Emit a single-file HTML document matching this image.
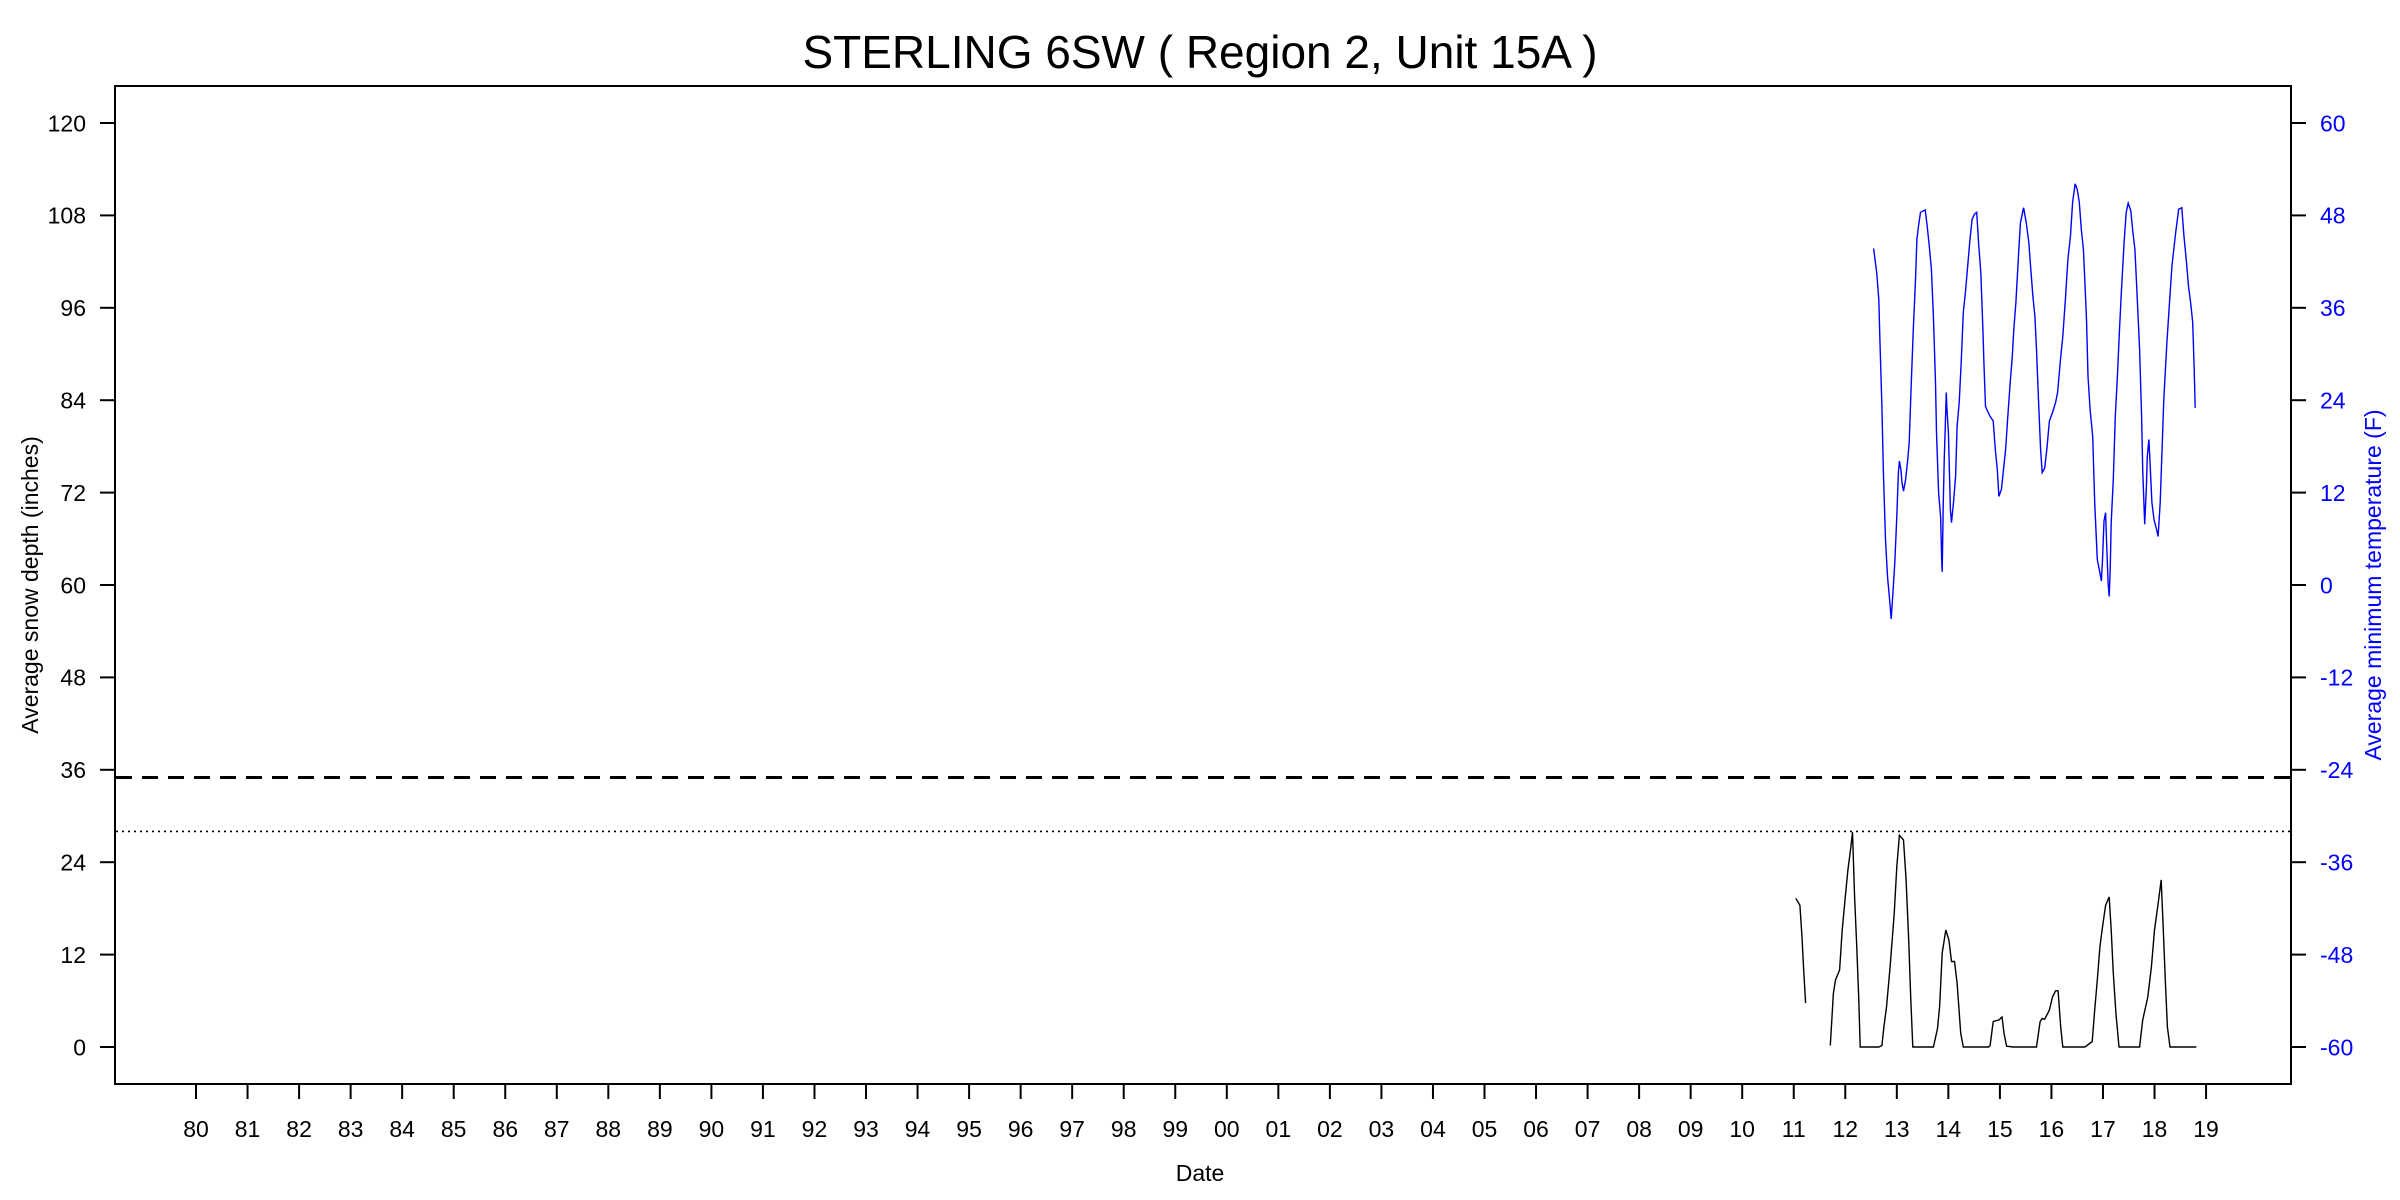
<!DOCTYPE html>
<html><head><meta charset="utf-8"><style>
html,body{margin:0;padding:0;background:#fff;}
svg{display:block;font-family:"Liberation Sans",Arial,sans-serif;}
</style></head><body>
<svg id="chart" width="2400" height="1200" viewBox="0 0 2400 1200">
<text x="1200" y="68" text-anchor="middle" font-size="46">STERLING 6SW ( Region 2, Unit 15A )</text>
<rect x="115" y="86" width="2176" height="998" fill="none" stroke="#000" stroke-width="2"/>
<g id="left-axis"></g>
<g id="right-axis"></g>
<g id="x-axis"></g>
<g id="series"></g>
<text x="0" y="0" transform="translate(38,585) rotate(-90)" text-anchor="middle" font-size="23">Average snow depth (inches)</text>
<text x="0" y="0" transform="translate(2381,585) rotate(-90)" text-anchor="middle" font-size="23" fill="#0000ff">Average minimum temperature (F)</text>
<text x="1200" y="1181" text-anchor="middle" font-size="23">Date</text>
</svg>
<script>
const leftTicks=[0,12,24,36,48,60,72,84,96,108,120];
const rightTicks=[-60,-48,-36,-24,-12,0,12,24,36,48,60];
const xTickLabels=["80","81","82","83","84","85","86","87","88","89","90","91","92","93","94","95","96","97","98","99","00","01","02","03","04","05","06","07","08","09","10","11","12","13","14","15","16","17","18","19"];
const xTickYears=[1980,1981,1982,1983,1984,1985,1986,1987,1988,1989,1990,1991,1992,1993,1994,1995,1996,1997,1998,1999,2000,2001,2002,2003,2004,2005,2006,2007,2008,2009,2010,2011,2012,2013,2014,2015,2016,2017,2018,2019];
const snowThresholdDashed=35;
const snowThresholdDotted=28;
const snowDates=[2011.04,2011.12,2011.16,2011.19,2011.23,null,
2011.71,2011.77,2011.81,2011.89,2011.94,2012.00,2012.05,2012.11,2012.14,2012.18,2012.22,2012.26,2012.29,2012.65,2012.71,2012.75,2012.80,2012.87,2012.95,2013.00,2013.05,2013.13,2013.18,2013.23,2013.27,2013.31,2013.71,2013.79,2013.83,2013.88,2013.95,2014.01,2014.06,2014.12,2014.17,2014.24,2014.29,2014.78,2014.81,2014.87,2014.91,2014.98,2015.04,2015.08,2015.13,2015.26,2015.71,2015.78,2015.82,2015.87,2015.96,2016.02,2016.08,2016.13,2016.18,2016.22,2016.65,2016.79,2016.84,2016.89,2016.94,2016.99,2017.05,2017.12,2017.16,2017.20,2017.25,2017.31,2017.71,2017.77,2017.87,2017.94,2018.00,2018.07,2018.13,2018.17,2018.21,2018.25,2018.30,2018.81];
const snowDepth=[19.3,18.4,14.3,10.4,5.7,null,
0.2,7.0,8.7,10.0,15.2,19.5,23.0,26.0,27.9,19.5,13.5,6.5,0,0,0.2,2.6,5.2,10.4,17.3,23.4,27.5,26.9,21.7,13.9,6.5,0,0,2.4,5.2,12.2,15.2,13.9,11.1,11.1,8.3,1.8,0,0,0.2,3.3,3.4,3.5,3.9,1.8,0.1,0,0,3.3,3.7,3.6,4.8,6.5,7.3,7.3,2.6,0,0,0.7,4.8,8.7,13.0,15.6,18.4,19.5,15.2,9.6,4.4,0,0,3.5,6.5,10.4,15.2,18.6,21.7,15.2,8.7,2.6,0,0];
const tempDates=[2012.55,2012.61,2012.65,2012.67,2012.71,2012.74,2012.78,2012.82,2012.86,2012.89,2012.92,2012.96,2013.00,2013.03,2013.05,2013.08,2013.10,2013.13,2013.17,2013.21,2013.24,2013.28,2013.32,2013.36,2013.39,2013.42,2013.46,2013.52,2013.55,2013.59,2013.63,2013.67,2013.71,2013.75,2013.77,2013.81,2013.85,2013.87,2013.88,2013.90,2013.92,2013.96,2013.97,2014.00,2014.04,2014.06,2014.10,2014.14,2014.17,2014.21,2014.25,2014.29,2014.33,2014.37,2014.42,2014.46,2014.51,2014.55,2014.59,2014.63,2014.67,2014.69,2014.72,2014.76,2014.81,2014.87,2014.91,2014.95,2014.98,2015.03,2015.07,2015.11,2015.15,2015.20,2015.24,2015.27,2015.31,2015.37,2015.40,2015.46,2015.51,2015.56,2015.60,2015.64,2015.68,2015.71,2015.75,2015.79,2015.82,2015.87,2015.91,2015.96,2016.02,2016.08,2016.12,2016.17,2016.22,2016.27,2016.32,2016.37,2016.41,2016.46,2016.50,2016.54,2016.58,2016.62,2016.65,2016.68,2016.71,2016.75,2016.80,2016.84,2016.89,2016.94,2016.97,2016.99,2017.02,2017.05,2017.07,2017.10,2017.12,2017.14,2017.16,2017.20,2017.24,2017.28,2017.32,2017.36,2017.41,2017.45,2017.49,2017.54,2017.58,2017.62,2017.65,2017.71,2017.75,2017.77,2017.81,2017.84,2017.86,2017.89,2017.91,2017.95,2017.99,2018.04,2018.07,2018.11,2018.15,2018.18,2018.24,2018.29,2018.34,2018.41,2018.47,2018.53,2018.57,2018.62,2018.66,2018.70,2018.74,2018.77,2018.79];
const tempMin=[43.7,40.6,37.1,32.3,23.2,14.6,5.9,1.1,-1.9,-4.4,-1.5,2.9,8.9,14.6,16.1,15.0,13.3,12.2,13.7,16.1,18.5,26.3,33.2,39.3,44.9,46.6,48.4,48.6,48.7,46.6,44.0,41.0,34.9,26.3,19.8,12.0,8.9,3.3,1.7,10.2,16.1,25.0,23.2,19.8,9.8,8.1,10.7,14.1,20.6,23.7,28.9,35.4,38.0,41.0,44.9,47.5,48.2,48.4,44.0,40.6,33.2,28.9,23.2,22.6,21.9,21.3,17.6,15.0,11.5,12.4,15.0,17.6,21.5,26.3,29.7,33.2,36.7,44.0,47.1,49.0,47.1,44.5,41.0,37.5,34.9,30.6,23.7,17.6,14.6,15.2,17.6,21.3,22.4,23.7,25.0,28.9,32.3,37.1,42.3,45.4,49.7,52.1,51.4,49.7,46.2,43.6,39.3,34.5,27.1,22.8,19.3,10.7,3.3,1.6,0.5,3.3,8.3,9.4,5.5,0.3,-1.5,2.0,8.1,13.7,21.9,27.1,33.2,38.4,44.5,48.4,49.6,48.6,45.8,43.6,39.3,30.6,21.9,15.0,7.9,12.4,16.7,18.9,16.3,10.7,8.5,7.2,6.3,10.7,18.5,24.1,31.5,36.7,41.5,45.8,48.8,49.0,45.4,41.9,38.8,36.7,34.1,28.0,23.0];

const NS="http://www.w3.org/2000/svg";
const X0=196, XSTEP=51.54;
function xScale(yr){return X0+(yr-1980)*XSTEP;}
function yLeft(v){return 1047-v*7.7;}
function yRight(t){return 1047-(t+60)*7.7;}
function mk(tag,attrs,parent){const e=document.createElementNS(NS,tag);for(const k in attrs)e.setAttribute(k,attrs[k]);parent.appendChild(e);return e;}

const la=document.getElementById('left-axis');
leftTicks.forEach(v=>{
  const y=yLeft(v);
  const t=mk('line',{x1:100,x2:115,y1:y,y2:y,stroke:'#000','stroke-width':2},la);
  
  
  const l=mk('text',{x:86,y:y+8.3,'text-anchor':'end','font-size':23},la);
  
  
  l.textContent=v;
});
const ra=document.getElementById('right-axis');
rightTicks.forEach(v=>{
  const y=yRight(v);
  const t=mk('line',{x1:2291,x2:2306,y1:y,y2:y,stroke:'#000','stroke-width':2},ra);
  
  
  const l=mk('text',{x:2320,y:y+8.3,'text-anchor':'start','font-size':23,fill:'#0000ff'},ra);
  
  
  l.textContent=v;
});
const xa=document.getElementById('x-axis');
xTickYears.forEach((yr,i)=>{
  const x=xScale(yr);
  const t=mk('line',{x1:x,x2:x,y1:1084,y2:1099,stroke:'#000','stroke-width':2},xa);
  
  
  const l=mk('text',{x:x,y:1137,'text-anchor':'middle','font-size':23},xa);
  
  
  l.textContent=xTickLabels[i];
});
const sg=document.getElementById('series');
const dl=mk('line',{x1:116,x2:2290,y1:yLeft(snowThresholdDashed),y2:yLeft(snowThresholdDashed),stroke:'#000','stroke-width':3,'stroke-dasharray':'16,10'},sg);


const dt=mk('line',{x1:116,x2:2290,y1:yLeft(snowThresholdDotted),y2:yLeft(snowThresholdDotted),stroke:'#000','stroke-width':1.6,'stroke-dasharray':'2,4'},sg);



function pathFrom(xs,ys,yf){
  let d='',pen=false;
  for(let i=0;i<xs.length;i++){
    if(xs[i]===null||ys[i]===null){pen=false;continue;}
    d+=(pen?'L':'M')+xScale(xs[i]).toFixed(1)+','+yf(ys[i]).toFixed(1);
    pen=true;
  }
  return d;
}
const sp=mk('path',{d:pathFrom(snowDates,snowDepth,yLeft),fill:'none',stroke:'#000','stroke-width':1.4},sg);


const tp=mk('path',{d:pathFrom(tempDates,tempMin,yRight),fill:'none',stroke:'#0000ff','stroke-width':1.4},sg);


</script>
</body></html>
